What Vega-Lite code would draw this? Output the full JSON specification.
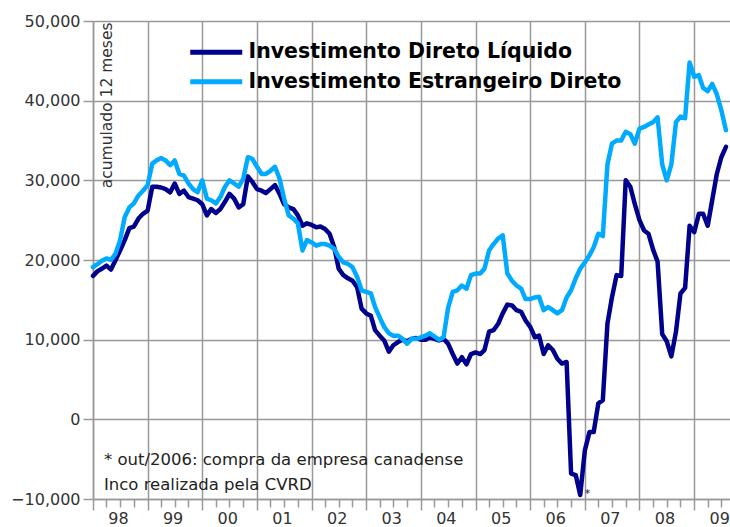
{
  "$schema": "https://vega.github.io/schema/vega-lite/v6.json",
  "width": 637,
  "height": 478,
  "autosize": {"type": "none"},
  "padding": {"left": 93, "top": 21, "right": 0, "bottom": 28},
  "background": "white",
  "config": {"view": {"stroke": null}},
  "datasets": {
    "series": [
      {"date": "1998-01-01", "liquido": 18000, "estrangeiro": 19100},
      {"date": "1998-02-01", "liquido": 18600, "estrangeiro": 19500},
      {"date": "1998-03-01", "liquido": 18900, "estrangeiro": 19900},
      {"date": "1998-04-01", "liquido": 19300, "estrangeiro": 20200},
      {"date": "1998-05-01", "liquido": 18800, "estrangeiro": 20000},
      {"date": "1998-06-01", "liquido": 20000, "estrangeiro": 20800},
      {"date": "1998-07-01", "liquido": 21200, "estrangeiro": 22500},
      {"date": "1998-08-01", "liquido": 22500, "estrangeiro": 25400},
      {"date": "1998-09-01", "liquido": 24000, "estrangeiro": 26600},
      {"date": "1998-10-01", "liquido": 24200, "estrangeiro": 27100},
      {"date": "1998-11-01", "liquido": 25200, "estrangeiro": 28100},
      {"date": "1998-12-01", "liquido": 25800, "estrangeiro": 28700},
      {"date": "1999-01-01", "liquido": 26200, "estrangeiro": 29400},
      {"date": "1999-02-01", "liquido": 29200, "estrangeiro": 32100},
      {"date": "1999-03-01", "liquido": 29200, "estrangeiro": 32500},
      {"date": "1999-04-01", "liquido": 29100, "estrangeiro": 32800},
      {"date": "1999-05-01", "liquido": 28900, "estrangeiro": 32500},
      {"date": "1999-06-01", "liquido": 28500, "estrangeiro": 31900},
      {"date": "1999-07-01", "liquido": 29600, "estrangeiro": 32500},
      {"date": "1999-08-01", "liquido": 28300, "estrangeiro": 30800},
      {"date": "1999-09-01", "liquido": 28700, "estrangeiro": 30600},
      {"date": "1999-10-01", "liquido": 27900, "estrangeiro": 29600},
      {"date": "1999-11-01", "liquido": 27700, "estrangeiro": 28900},
      {"date": "1999-12-01", "liquido": 27500, "estrangeiro": 28500},
      {"date": "2000-01-01", "liquido": 27000, "estrangeiro": 30000},
      {"date": "2000-02-01", "liquido": 25600, "estrangeiro": 27700},
      {"date": "2000-03-01", "liquido": 26400, "estrangeiro": 27500},
      {"date": "2000-04-01", "liquido": 25900, "estrangeiro": 27100},
      {"date": "2000-05-01", "liquido": 26400, "estrangeiro": 27900},
      {"date": "2000-06-01", "liquido": 27300, "estrangeiro": 29200},
      {"date": "2000-07-01", "liquido": 28300, "estrangeiro": 30000},
      {"date": "2000-08-01", "liquido": 27700, "estrangeiro": 29600},
      {"date": "2000-09-01", "liquido": 26600, "estrangeiro": 29200},
      {"date": "2000-10-01", "liquido": 27000, "estrangeiro": 30200},
      {"date": "2000-11-01", "liquido": 30500, "estrangeiro": 32900},
      {"date": "2000-12-01", "liquido": 29800, "estrangeiro": 32700},
      {"date": "2001-01-01", "liquido": 28900, "estrangeiro": 31700},
      {"date": "2001-02-01", "liquido": 28700, "estrangeiro": 30800},
      {"date": "2001-03-01", "liquido": 28400, "estrangeiro": 30800},
      {"date": "2001-04-01", "liquido": 28900, "estrangeiro": 31200},
      {"date": "2001-05-01", "liquido": 29400, "estrangeiro": 31700},
      {"date": "2001-06-01", "liquido": 28300, "estrangeiro": 30200},
      {"date": "2001-07-01", "liquido": 27000, "estrangeiro": 27700},
      {"date": "2001-08-01", "liquido": 26600, "estrangeiro": 25600},
      {"date": "2001-09-01", "liquido": 26400, "estrangeiro": 25200},
      {"date": "2001-10-01", "liquido": 25600, "estrangeiro": 24600},
      {"date": "2001-11-01", "liquido": 24300, "estrangeiro": 21200},
      {"date": "2001-12-01", "liquido": 24600, "estrangeiro": 22500},
      {"date": "2002-01-01", "liquido": 24400, "estrangeiro": 22200},
      {"date": "2002-02-01", "liquido": 24100, "estrangeiro": 21800},
      {"date": "2002-03-01", "liquido": 24200, "estrangeiro": 22000},
      {"date": "2002-04-01", "liquido": 23900, "estrangeiro": 22000},
      {"date": "2002-05-01", "liquido": 23300, "estrangeiro": 21800},
      {"date": "2002-06-01", "liquido": 21600, "estrangeiro": 21400},
      {"date": "2002-07-01", "liquido": 18900, "estrangeiro": 20400},
      {"date": "2002-08-01", "liquido": 18100, "estrangeiro": 19700},
      {"date": "2002-09-01", "liquido": 17700, "estrangeiro": 19500},
      {"date": "2002-10-01", "liquido": 17400, "estrangeiro": 19100},
      {"date": "2002-11-01", "liquido": 16600, "estrangeiro": 17900},
      {"date": "2002-12-01", "liquido": 13900, "estrangeiro": 16200},
      {"date": "2003-01-01", "liquido": 13300, "estrangeiro": 16000},
      {"date": "2003-02-01", "liquido": 13000, "estrangeiro": 15800},
      {"date": "2003-03-01", "liquido": 11200, "estrangeiro": 14100},
      {"date": "2003-04-01", "liquido": 10500, "estrangeiro": 12800},
      {"date": "2003-05-01", "liquido": 9900, "estrangeiro": 11600},
      {"date": "2003-06-01", "liquido": 8500, "estrangeiro": 10800},
      {"date": "2003-07-01", "liquido": 9300, "estrangeiro": 10500},
      {"date": "2003-08-01", "liquido": 9700, "estrangeiro": 10500},
      {"date": "2003-09-01", "liquido": 10000, "estrangeiro": 10100},
      {"date": "2003-10-01", "liquido": 9800, "estrangeiro": 9500},
      {"date": "2003-11-01", "liquido": 10100, "estrangeiro": 10100},
      {"date": "2003-12-01", "liquido": 10200, "estrangeiro": 10100},
      {"date": "2004-01-01", "liquido": 10000, "estrangeiro": 10300},
      {"date": "2004-02-01", "liquido": 10000, "estrangeiro": 10500},
      {"date": "2004-03-01", "liquido": 10300, "estrangeiro": 10800},
      {"date": "2004-04-01", "liquido": 10100, "estrangeiro": 10400},
      {"date": "2004-05-01", "liquido": 9900, "estrangeiro": 10000},
      {"date": "2004-06-01", "liquido": 10100, "estrangeiro": 10300},
      {"date": "2004-07-01", "liquido": 9500, "estrangeiro": 14000},
      {"date": "2004-08-01", "liquido": 8200, "estrangeiro": 16000},
      {"date": "2004-09-01", "liquido": 7000, "estrangeiro": 16200},
      {"date": "2004-10-01", "liquido": 7800, "estrangeiro": 16800},
      {"date": "2004-11-01", "liquido": 6900, "estrangeiro": 16400},
      {"date": "2004-12-01", "liquido": 8200, "estrangeiro": 18100},
      {"date": "2005-01-01", "liquido": 8400, "estrangeiro": 18300},
      {"date": "2005-02-01", "liquido": 8200, "estrangeiro": 18300},
      {"date": "2005-03-01", "liquido": 8700, "estrangeiro": 18900},
      {"date": "2005-04-01", "liquido": 11000, "estrangeiro": 21200},
      {"date": "2005-05-01", "liquido": 11200, "estrangeiro": 22000},
      {"date": "2005-06-01", "liquido": 12000, "estrangeiro": 22700},
      {"date": "2005-07-01", "liquido": 13300, "estrangeiro": 23100},
      {"date": "2005-08-01", "liquido": 14400, "estrangeiro": 18300},
      {"date": "2005-09-01", "liquido": 14300, "estrangeiro": 17400},
      {"date": "2005-10-01", "liquido": 13700, "estrangeiro": 16800},
      {"date": "2005-11-01", "liquido": 13500, "estrangeiro": 16400},
      {"date": "2005-12-01", "liquido": 12400, "estrangeiro": 15100},
      {"date": "2006-01-01", "liquido": 11600, "estrangeiro": 15100},
      {"date": "2006-02-01", "liquido": 10300, "estrangeiro": 15300},
      {"date": "2006-03-01", "liquido": 10500, "estrangeiro": 15400},
      {"date": "2006-04-01", "liquido": 8200, "estrangeiro": 13700},
      {"date": "2006-05-01", "liquido": 9300, "estrangeiro": 14100},
      {"date": "2006-06-01", "liquido": 8700, "estrangeiro": 13700},
      {"date": "2006-07-01", "liquido": 7600, "estrangeiro": 13300},
      {"date": "2006-08-01", "liquido": 7000, "estrangeiro": 13700},
      {"date": "2006-09-01", "liquido": 7200, "estrangeiro": 15300},
      {"date": "2006-10-01", "liquido": -6800, "estrangeiro": 16200},
      {"date": "2006-11-01", "liquido": -7000, "estrangeiro": 17700},
      {"date": "2006-12-01", "liquido": -9500, "estrangeiro": 18900},
      {"date": "2007-01-01", "liquido": -3900, "estrangeiro": 19700},
      {"date": "2007-02-01", "liquido": -1600, "estrangeiro": 20600},
      {"date": "2007-03-01", "liquido": -1600, "estrangeiro": 21600},
      {"date": "2007-04-01", "liquido": 2000, "estrangeiro": 23300},
      {"date": "2007-05-01", "liquido": 2400, "estrangeiro": 23000},
      {"date": "2007-06-01", "liquido": 12000, "estrangeiro": 32000},
      {"date": "2007-07-01", "liquido": 15300, "estrangeiro": 34600},
      {"date": "2007-08-01", "liquido": 18100, "estrangeiro": 35000},
      {"date": "2007-09-01", "liquido": 18000, "estrangeiro": 35000},
      {"date": "2007-10-01", "liquido": 30000, "estrangeiro": 36100},
      {"date": "2007-11-01", "liquido": 29200, "estrangeiro": 35800},
      {"date": "2007-12-01", "liquido": 27000, "estrangeiro": 34600},
      {"date": "2008-01-01", "liquido": 25000, "estrangeiro": 36500},
      {"date": "2008-02-01", "liquido": 23700, "estrangeiro": 36700},
      {"date": "2008-03-01", "liquido": 23300, "estrangeiro": 37000},
      {"date": "2008-04-01", "liquido": 21300, "estrangeiro": 37300},
      {"date": "2008-05-01", "liquido": 19800, "estrangeiro": 37900},
      {"date": "2008-06-01", "liquido": 10700, "estrangeiro": 32000},
      {"date": "2008-07-01", "liquido": 9800, "estrangeiro": 30000},
      {"date": "2008-08-01", "liquido": 7900, "estrangeiro": 32000},
      {"date": "2008-09-01", "liquido": 11000, "estrangeiro": 37300},
      {"date": "2008-10-01", "liquido": 15800, "estrangeiro": 38000},
      {"date": "2008-11-01", "liquido": 16500, "estrangeiro": 37800},
      {"date": "2008-12-01", "liquido": 24300, "estrangeiro": 44800},
      {"date": "2009-01-01", "liquido": 23500, "estrangeiro": 43000},
      {"date": "2009-02-01", "liquido": 25800, "estrangeiro": 43200},
      {"date": "2009-03-01", "liquido": 25800, "estrangeiro": 41600},
      {"date": "2009-04-01", "liquido": 24300, "estrangeiro": 41200},
      {"date": "2009-05-01", "liquido": 27500, "estrangeiro": 42100},
      {"date": "2009-06-01", "liquido": 30800, "estrangeiro": 40800},
      {"date": "2009-07-01", "liquido": 32900, "estrangeiro": 38800},
      {"date": "2009-08-01", "liquido": 34200, "estrangeiro": 36300}
    ],
    "notes": [
      {"date": "1998-03-15", "valor": -5770, "texto": "* out/2006: compra da empresa canadense"},
      {"date": "1998-03-15", "valor": -8900, "texto": "Inco realizada pela CVRD"}
    ],
    "star": [
      {"date": "2007-01-18", "valor": -9400, "texto": "*"}
    ]
  },
  "layer": [
    {
      "data": {"name": "series"},
      "transform": [{"fold": ["liquido", "estrangeiro"], "as": ["serie", "valor"]}],
      "mark": {"type": "line", "strokeWidth": 4.5, "strokeJoin": "round", "strokeCap": "round"},
      "encoding": {
        "x": {
          "field": "date", "type": "temporal",
          "scale": {"type": "utc", "domain": [{"year": 1998, "month": 1, "date": 1, "utc": true}, {"year": 2009, "month": 8, "date": 28, "utc": true}]},
          "axis": {
            "title": null,
            "tickCount": {"interval": "month", "step": 3},
            "labelExpr": "utcmonth(datum.value) == 0 ? utcFormat(datum.value, '%y') : ''",
            "labelOffset": 25,
            "labelFlush": false,
            "labelOverlap": false,
            "labelFont": "DejaVu Sans",
            "labelFontSize": 16,
            "labelColor": "#333333",
            "labelPadding": 0,
            "grid": true,
            "gridColor": "#999999",
            "gridWidth": 1.5,
            "gridOpacity": {"condition": {"test": "utcmonth(datum.value) == 0", "value": 1}, "value": 0},
            "tickSize": {"condition": {"test": "utcmonth(datum.value) == 0", "value": 11}, "value": 8},
            "tickColor": "#999999",
            "tickWidth": 1.5,
            "domainColor": "#999999",
            "domainWidth": 1.5
          }
        },
        "y": {
          "field": "valor", "type": "quantitative",
          "scale": {"domain": [-10000, 50000], "nice": false},
          "axis": {
            "title": "acumulado 12 meses",
            "titleFont": "DejaVu Sans",
            "titleFontSize": 15.5,
            "titleFontWeight": "normal",
            "titleColor": "#333333",
            "titleAngle": -90,
            "titleX": 13,
            "titleY": 1,
            "titleAlign": "right",
            "titleBaseline": "middle",
            "values": [-10000, 0, 10000, 20000, 30000, 40000, 50000],
            "format": ",.0f",
            "labelFont": "DejaVu Sans",
            "labelFontSize": 16,
            "labelColor": "#333333",
            "labelPadding": 3,
            "tickSize": 10,
            "tickColor": "#999999",
            "tickWidth": 1.5,
            "domainColor": "#999999",
            "domainWidth": 1.5,
            "grid": true,
            "gridColor": "#999999",
            "gridWidth": 1.5
          }
        },
        "color": {
          "field": "serie", "type": "nominal",
          "scale": {"domain": ["liquido", "estrangeiro"], "range": ["#00008C", "#00AAFF"]},
          "legend": {
            "title": null,
            "orient": "none",
            "legendX": 113,
            "legendY": 21,
            "padding": 0,
            "symbolType": "M-4,0H4",
            "symbolSize": 169,
            "symbolStrokeWidth": 5,
            "symbolFillColor": "transparent",
            "labelOffset": 22,
            "labelFont": "DejaVu Sans",
            "labelFontSize": 20.5,
            "labelFontWeight": "bold",
            "labelColor": "#000000",
            "labelLimit": 0,
            "rowPadding": 8.5,
            "labelExpr": "datum.value == 'liquido' ? 'Investimento Direto Líquido' : 'Investimento Estrangeiro Direto'"
          }
        }
      }
    },
    {
      "data": {"name": "notes"},
      "mark": {"type": "text", "align": "left", "baseline": "alphabetic", "font": "DejaVu Sans", "fontSize": 16.5, "color": "#222222"},
      "encoding": {
        "x": {"field": "date", "type": "temporal"},
        "y": {"field": "valor", "type": "quantitative"},
        "text": {"field": "texto"}
      }
    },
    {
      "data": {"name": "star"},
      "mark": {"type": "text", "align": "center", "baseline": "middle", "font": "DejaVu Sans", "fontSize": 11, "color": "#222222"},
      "encoding": {
        "x": {"field": "date", "type": "temporal"},
        "y": {"field": "valor", "type": "quantitative"},
        "text": {"field": "texto"}
      }
    }
  ]
}
